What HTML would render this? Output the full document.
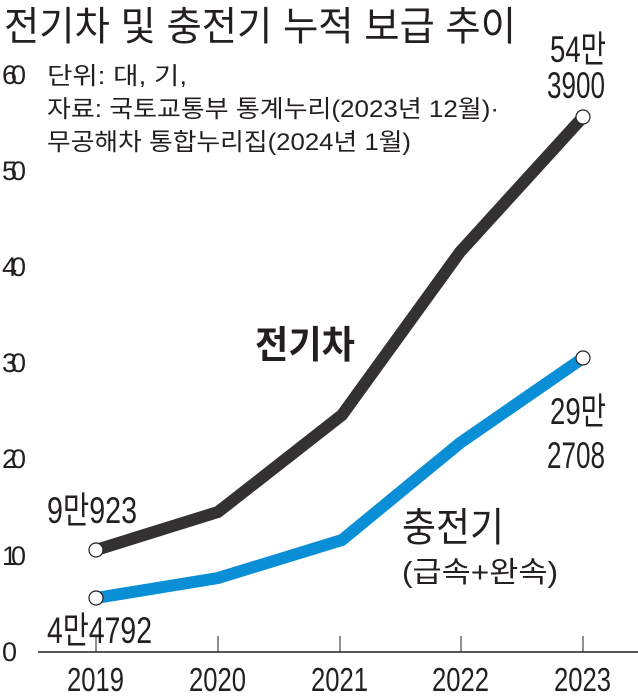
<!DOCTYPE html>
<html><head><meta charset="utf-8"><style>
body{margin:0;background:#fff;}
svg text{font-family:"Liberation Sans","Noto Sans CJK KR",sans-serif;fill:#231f20;}
</style></head><body>
<svg width="638" height="692" viewBox="0 0 638 692" xmlns="http://www.w3.org/2000/svg">
<text x="4" y="40" font-size="40" textLength="512" lengthAdjust="spacingAndGlyphs">전기차 및 충전기 누적 보급 추이</text>
<g font-size="27" lengthAdjust="spacingAndGlyphs">
<text x="2" y="84" textLength="24">60</text><text x="2" y="180" textLength="24">50</text><text x="2" y="276" textLength="24">40</text>
<text x="2" y="372" textLength="24">30</text><text x="2" y="468" textLength="24">20</text><text x="2" y="565" textLength="24">10</text><text x="2" y="661" textLength="12">0</text>
</g>
<g font-size="24">
<text x="47" y="84" textLength="140" lengthAdjust="spacingAndGlyphs">단위: 대, 기,</text>
<text x="47" y="117" textLength="452" lengthAdjust="spacingAndGlyphs">자료: 국토교통부 통계누리(2023년 12월)·</text>
<text x="47" y="150" textLength="364" lengthAdjust="spacingAndGlyphs">무공해차 통합누리집(2024년 1월)</text>
</g>
<line x1="38" y1="652" x2="638" y2="652" stroke="#231f20" stroke-width="1.5"/>
<g stroke="#231f20" stroke-width="1">
<line x1="96" y1="636" x2="96" y2="652"/><line x1="218" y1="636" x2="218" y2="652"/>
<line x1="340" y1="636" x2="340" y2="652"/><line x1="461" y1="636" x2="461" y2="652"/><line x1="583" y1="636" x2="583" y2="652"/>
</g>
<g font-size="33">
<text x="67" y="691" textLength="57" lengthAdjust="spacingAndGlyphs">2019</text>
<text x="189" y="691" textLength="57" lengthAdjust="spacingAndGlyphs">2020</text>
<text x="311" y="691" textLength="57" lengthAdjust="spacingAndGlyphs">2021</text>
<text x="432" y="691" textLength="57" lengthAdjust="spacingAndGlyphs">2022</text>
<text x="554" y="691" textLength="57" lengthAdjust="spacingAndGlyphs">2023</text>
</g>
<polyline points="96,550 218,512 342,415 460,252 583,117" fill="none" stroke="#333132" stroke-width="12"/>
<polyline points="96,598 218,578 342,540 460,443 583,358" fill="none" stroke="#0a8fd6" stroke-width="12"/>
<g fill="#fff" stroke="#231f20" stroke-width="1.2">
<circle cx="96" cy="550" r="7"/><circle cx="583" cy="117" r="7"/>
<circle cx="96" cy="598" r="7"/><circle cx="583" cy="358" r="7"/>
</g>
<g font-size="37">
<text x="47" y="523" textLength="90" lengthAdjust="spacingAndGlyphs">9만923</text>
<text x="47" y="643" textLength="105" lengthAdjust="spacingAndGlyphs">4만4792</text>
<text x="550" y="62" textLength="56" lengthAdjust="spacingAndGlyphs">54만</text>
<text x="547" y="98" textLength="58" lengthAdjust="spacingAndGlyphs">3900</text>
<text x="550" y="424" textLength="56" lengthAdjust="spacingAndGlyphs">29만</text>
<text x="547" y="468" textLength="58" lengthAdjust="spacingAndGlyphs">2708</text>
</g>
<text x="255" y="358" font-size="38" font-weight="bold" textLength="100" lengthAdjust="spacingAndGlyphs">전기차</text>
<text x="402" y="541" font-size="40" textLength="102" lengthAdjust="spacingAndGlyphs">충전기</text>
<text x="402" y="582" font-size="29" textLength="156" lengthAdjust="spacingAndGlyphs">(급속+완속)</text>
</svg>
</body></html>
